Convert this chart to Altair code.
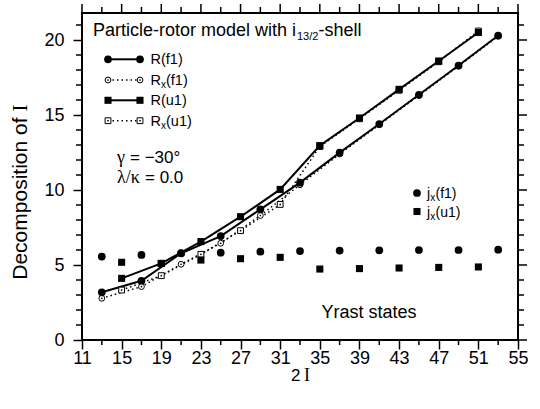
import altair as alt
import pandas as pd

# ---------------- data ----------------
x_f1 = [13, 17, 21, 25, 29, 33, 37, 41, 45, 49, 53]
R_f1 = [3.18, 3.95, 5.78, 6.93, 8.71, 10.49, 12.49, 14.4, 16.35, 18.3, 20.3]
Rx_f1 = [2.78, 3.56, 5.05, 6.45, 8.3, 10.35, 12.4, 14.35, 16.3, 18.25, 20.25]
jx_f1 = [5.56, 5.67, 5.8, 5.82, 5.89, 5.93, 5.96, 5.98, 6.0, 6.0, 6.02]

x_u1 = [15, 19, 23, 27, 31, 35, 39, 43, 47, 51]
R_u1 = [4.11, 5.11, 6.56, 8.22, 10.04, 12.96, 14.8, 16.71, 18.6, 20.5]
Rx_u1 = [3.33, 4.29, 5.71, 7.29, 9.04, 12.9, 14.75, 16.65, 18.55, 20.6]
jx_u1 = [5.18, 5.1, 5.33, 5.42, 5.51, 4.73, 4.76, 4.8, 4.84, 4.87]

x_major = [11, 15, 19, 23, 27, 31, 35, 39, 43, 47, 51, 55]
x_minor = [13, 17, 21, 25, 29, 33, 37, 41, 45, 49, 53]
y_major = [0, 5, 10, 15, 20]
y_minor = [1, 2, 3, 4, 6, 7, 8, 9, 11, 12, 13, 14, 16, 17, 18, 19, 21]

SANS = "Liberation Sans"
SERIF = "Liberation Serif"
W, H = 436, 327

df_f1 = pd.DataFrame({"x": x_f1, "R": R_f1, "Rx": Rx_f1, "jx": jx_f1})
df_u1 = pd.DataFrame({"x": x_u1, "R": R_u1, "Rx": Rx_u1, "jx": jx_u1})
one = pd.DataFrame({"d": [0]})

xs = alt.Scale(domain=[11, 55], nice=False, zero=False)
ys = alt.Scale(domain=[0, 21.8], nice=False, zero=False)
xaxis = alt.Axis(values=x_major, tickSize=9, tickWidth=1.5, tickColor="black",
                 labelFontSize=18, labelFont=SANS, labelColor="black",
                 labelPadding=0, labelFlush=False, labelOverlap=False,
                 domain=False, grid=False, title=None)
yaxis = alt.Axis(values=y_major, tickSize=9, tickWidth=1.5, tickColor="black",
                 labelFontSize=18, labelFont=SANS, labelColor="black",
                 labelPadding=9, labelFlush=False, labelOverlap=False,
                 domain=False, grid=False, title=None)


def X(f):
    return alt.X(f, type="quantitative", scale=xs, axis=xaxis)


def Y(f):
    return alt.Y(f, type="quantitative", scale=ys, axis=yaxis)


layers = []

# ---------- data lines ----------
for df in (df_f1, df_u1):
    layers.append(alt.Chart(df).mark_line(color="black", strokeWidth=1.5,
                                          strokeDash=[1.5, 3]).encode(x=X("x"), y=Y("Rx")))
for df in (df_f1, df_u1):
    layers.append(alt.Chart(df).mark_line(color="black", strokeWidth=2).encode(x=X("x"), y=Y("R")))

# Rx markers (open, with centre dot)
layers.append(alt.Chart(df_f1).mark_point(shape="circle", fill="white", stroke="black", strokeWidth=1,
                                          size=34, opacity=1).encode(x=X("x"), y=Y("Rx")))
layers.append(alt.Chart(df_u1).mark_point(shape="square", fill="white", stroke="black", strokeWidth=1,
                                          size=34, opacity=1).encode(x=X("x"), y=Y("Rx")))
for df in (df_f1, df_u1):
    layers.append(alt.Chart(df).mark_point(shape="circle", filled=True, color="black", size=3,
                                           opacity=1).encode(x=X("x"), y=Y("Rx")))
# j_x points
layers.append(alt.Chart(df_f1).mark_point(shape="circle", filled=True, color="black", size=60,
                                          opacity=1).encode(x=X("x"), y=Y("jx")))
layers.append(alt.Chart(df_u1).mark_point(shape="square", filled=True, color="black", size=50,
                                          opacity=1).encode(x=X("x"), y=Y("jx")))
# R markers
layers.append(alt.Chart(df_f1).mark_point(shape="circle", filled=True, color="black", size=60,
                                          opacity=1).encode(x=X("x"), y=Y("R")))
layers.append(alt.Chart(df_u1).mark_point(shape="square", filled=True, color="black", size=50,
                                          opacity=1).encode(x=X("x"), y=Y("R")))

# ---------- extra ticks (outward) ----------
tx_major = pd.DataFrame({"v": x_major})
tx_minor = pd.DataFrame({"v": x_minor})
ty_major = pd.DataFrame({"v": y_major})
ty_minor = pd.DataFrame({"v": y_minor})


def xticks(df, y1, y2):
    return alt.Chart(df).mark_rule(color="black", strokeWidth=1.5).encode(
        x=X("v"), y=alt.value(y1), y2=alt.value(y2))


def yticks(df, x1, x2):
    return alt.Chart(df).mark_rule(color="black", strokeWidth=1.5).encode(
        y=Y("v"), x=alt.value(x1), x2=alt.value(x2))


layers += [
    xticks(tx_minor, H, H + 5),
    xticks(tx_major, 0, -9),
    xticks(tx_minor, 0, -6),
    yticks(ty_minor, 0, -6),
    yticks(ty_major, W, W + 9),
    yticks(ty_minor, W, W + 6),
]


# ---------- annotations ----------
def txt(s, x, y, size, font=SANS, angle=0, align="left"):
    return alt.Chart(one).mark_text(text=s, fontSize=size, font=font, align=align,
                                    baseline="alphabetic", angle=angle, color="black").encode(
        x=alt.value(x), y=alt.value(y))


def seg(x1, x2, y, dash=None, width=2.0):
    kw = {"strokeDash": dash} if dash else {}
    return alt.Chart(one).mark_rule(color="black", strokeWidth=width, **kw).encode(
        x=alt.value(x1), x2=alt.value(x2), y=alt.value(y))


def pt(x, y, shape, size, open_=False):
    if open_:
        m = alt.Chart(one).mark_point(shape=shape, fill="white", stroke="black", strokeWidth=1,
                                      size=size, opacity=1)
    else:
        m = alt.Chart(one).mark_point(shape=shape, filled=True, color="black", size=size, opacity=1)
    return m.encode(x=alt.value(x), y=alt.value(y))


# title
layers += [
    txt("Particle-rotor model with i", 11, 23, 18),
    txt("13/2", 215, 27, 11),
    txt("-shell", 236.5, 23, 18),
]

# legend (left)
lx1, lx2, lab = 26, 58, 68.5
rows = [46.3, 67, 87.3, 107.7]
layers += [
    seg(lx1, lx2, rows[0]), pt(lx1, rows[0], "circle", 60), pt(lx2, rows[0], "circle", 60),
    txt("R(f1)", lab, rows[0] + 5, 14.5),
    seg(lx1, lx2, rows[1], dash=[1.5, 3], width=1.5),
    pt(lx1, rows[1], "circle", 34, True), pt(lx2, rows[1], "circle", 34, True),
    pt(lx1, rows[1], "circle", 3), pt(lx2, rows[1], "circle", 3),
    txt("R", lab, rows[1] + 5, 14.5), txt("x", lab + 10.5, rows[1] + 8, 10), txt("(f1)", lab + 15.5, rows[1] + 5, 14.5),
    seg(lx1, lx2, rows[2]), pt(lx1, rows[2], "square", 50), pt(lx2, rows[2], "square", 50),
    txt("R(u1)", lab, rows[2] + 5, 14.5),
    seg(lx1, lx2, rows[3], dash=[1.5, 3], width=1.5),
    pt(lx1, rows[3], "square", 34, True), pt(lx2, rows[3], "square", 34, True),
    pt(lx1, rows[3], "circle", 3), pt(lx2, rows[3], "circle", 3),
    txt("R", lab, rows[3] + 5, 14.5), txt("x", lab + 10.5, rows[3] + 8, 10), txt("(u1)", lab + 15.5, rows[3] + 5, 14.5),
]

# parameters
layers += [
    txt("\u03b3", 35, 150.3, 18, SERIF), txt("= \u221230\u00b0", 48, 150.3, 17),
    txt("\u03bb/\u03ba", 35, 169.7, 18, SERIF), txt("= 0.0", 63, 169.7, 17),
]

# legend (right)
layers += [
    pt(335, 180, "circle", 60), txt("j", 345, 184.5, 14), txt("x", 348.2, 187.5, 10), txt("(f1)", 353.5, 184.5, 14),
    pt(335, 198.5, "square", 50), txt("j", 345, 203.5, 14), txt("x", 348.2, 206.5, 10), txt("(u1)", 353.5, 203.5, 14),
]

layers.append(txt("Yrast states", 239.5, 305.3, 18))

# axis titles
layers += [
    txt("2", 209, 368, 17), txt("I", 222, 368, 18, SERIF),
    txt("Decomposition of", -55, 104.5, 21, angle=270, align="right"),
    txt("I", -55, 98.5, 21, SERIF, angle=270, align="left"),
]

chart = alt.layer(*layers).properties(
    width=W, height=H,
    padding={"left": 82, "top": 13, "right": 22, "bottom": 69},
    autosize=alt.AutoSizeParams(type="none"),
    background="white",
).configure_view(stroke="black", strokeWidth=2)

chart.save("out.html", embed_options={"renderer": "svg", "actions": False})
